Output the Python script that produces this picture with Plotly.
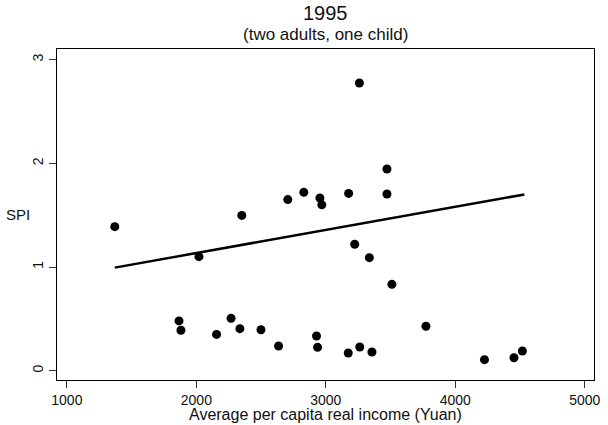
import plotly.graph_objects as go

income = [1866, 1881, 2156, 2268, 2336, 2499, 2635, 2928, 2936, 3173, 3262, 3356,
          3510, 3773, 4225, 4453, 4518,
          1370, 2020, 2351, 2706, 2830, 2954, 2969, 3176, 3472, 3472, 3223, 3336,
          3259]
spi = [0.48, 0.39, 0.35, 0.505, 0.405, 0.395, 0.238, 0.334, 0.225, 0.17, 0.228, 0.18,
       0.833, 0.428, 0.106, 0.125, 0.19,
       1.389, 1.10, 1.498, 1.65, 1.72, 1.666, 1.60, 1.71, 1.945, 1.704, 1.219, 1.09,
       2.775]
fit_x = [1370, 4533]
fit_y = [0.994, 1.70]

x_ticks = [1000, 2000, 3000, 4000, 5000]
y_ticks = [0, 1, 2, 3]

FONT = "Liberation Sans, Arial, sans-serif"

fig = go.Figure()
fig.add_trace(go.Scatter(x=income, y=spi, mode="markers",
                         marker=dict(color="black", size=9, line=dict(width=0)),
                         showlegend=False))
fig.add_trace(go.Scatter(x=fit_x, y=fit_y, mode="lines",
                         line=dict(color="black", width=2.5), showlegend=False))

fig.update_layout(
    width=608, height=425,
    margin=dict(l=57, r=8, t=49, b=45),
    paper_bgcolor="white", plot_bgcolor="white",
    font=dict(family=FONT, color="#111111", size=14),
    xaxis=dict(range=[923.7, 5071], tickvals=x_ticks, ticks="outside", ticklen=7,
               tickcolor="#333333", showline=True, linecolor="black", linewidth=1,
               mirror=True, showgrid=False, zeroline=False,
               tickfont=dict(size=14)),
    yaxis=dict(range=[-0.09, 3.103], tickvals=y_ticks, ticks="outside", ticklen=7,
               tickcolor="#333333", showline=True, linecolor="black", linewidth=1,
               mirror=True, showgrid=False, zeroline=False, tickangle=-90,
               tickfont=dict(size=14)),
)
fig.add_annotation(text="1995", xref="paper", yref="paper", x=0.5, y=1,
                   yshift=36, showarrow=False, font=dict(size=20),
                   xanchor="center", yanchor="middle")
fig.add_annotation(text="(two adults, one child)", xref="paper", yref="paper",
                   x=0.5, y=1, yshift=15, showarrow=False, font=dict(size=17),
                   xanchor="center", yanchor="middle")
fig.add_annotation(text="SPI", xref="paper", yref="paper", x=0, y=0.5,
                   xshift=-53, showarrow=False, font=dict(size=15),
                   xanchor="left", yanchor="middle")
fig.add_annotation(text="Average per capita real income (Yuan)", xref="paper",
                   yref="paper", x=0.5, y=0, yshift=-34, showarrow=False,
                   font=dict(size=16), xanchor="center", yanchor="middle")

# Remove the browser's default body margin so the figure sits at the page origin.
fig.write_html("out.html",
               config={"displayModeBar": False},
               post_script="document.body.style.margin='0';"
                           "document.body.style.overflow='hidden';")
